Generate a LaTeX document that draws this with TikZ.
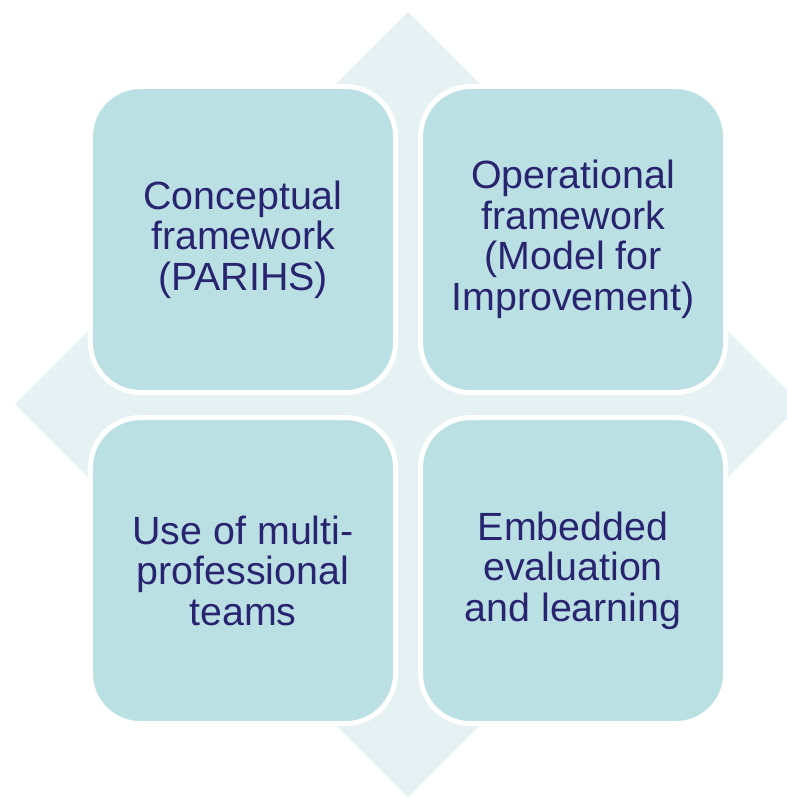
\documentclass[tikz,border=0pt]{standalone}
\usepackage{fontspec}
\setmainfont{Liberation Sans}
\usetikzlibrary{positioning}
\definecolor{tilefill}{RGB}{187,224,227}
\definecolor{backfill}{RGB}{229,241,243}
\definecolor{tiletext}{RGB}{40,36,112}

\begin{document}
\begin{tikzpicture}[
  x=0.025cm, y=-0.025cm,
  node distance=0.625cm,
  tile/.style={draw=white, line width=0.125cm, fill=tilefill,
               rounded corners=1.25cm, minimum width=7.625cm,
               minimum height=7.65cm, outer sep=0pt, inner sep=0pt,
               align=center, text=tiletext,
               font=\fontsize{28}{28.8}\selectfont}
]
\useasboundingbox (0,0) rectangle (787,798);
\clip (0,0) rectangle (787,798);
\fill[backfill] (408,12) -- (801,404) -- (408,797) -- (15,404) -- cycle;
\node[tile] (concept) at (243,239.5) {Conceptual\\framework\\(PARIHS)};
\node[tile, right=of concept] (oper) {Operational\\framework\\(Model for\\Improvement)};
\node[tile, below=of concept] (teams) {Use of multi-\\professional\\teams};
\node[tile, below=of oper] (learn) {Embedded\\evaluation\\and learning};
\end{tikzpicture}
\end{document}
